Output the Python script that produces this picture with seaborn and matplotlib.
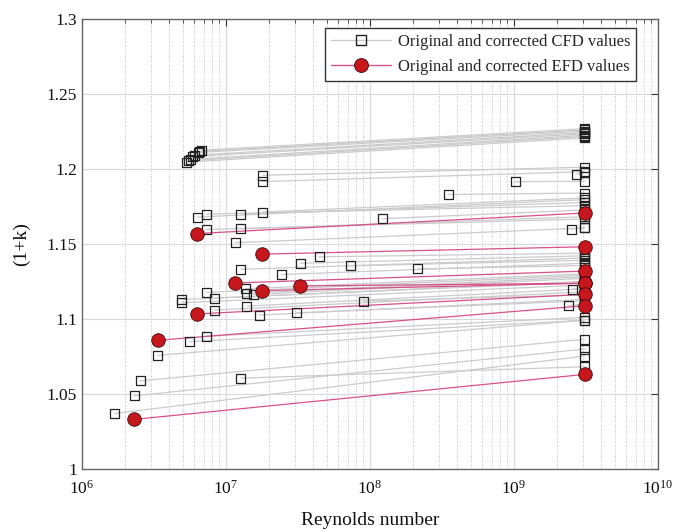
import pandas as pd
import numpy as np
import matplotlib
matplotlib.use("Agg")
import matplotlib.pyplot as plt
import matplotlib.ticker as ticker
from matplotlib.lines import Line2D
import seaborn as sns

# Reynolds number where all corrected values sit
re_corrected = 3.1e9

# CFD cases: original Reynolds number, original (1+k), corrected (1+k)
cfd_re = [5.36e6, 5.5e6, 5.65e6, 5.87e6, 6.07e6, 6.4e6, 6.56e6, 6.74e6,
          1.8e7, 1.8e7, 2.74e9, 1.02e9, 3.49e8,
          6.3e6, 7.3e6, 1.27e7, 1.8e7, 1.23e8, 7.3e6, 1.27e7, 1.16e7, 2.5e9,
          4.43e7, 1.27e7, 3.3e7, 2.44e7, 7.3e7, 2.15e8, 1.36e7, 1.4e7, 1.56e7,
          7.3e6, 8.3e6, 4.93e6, 4.93e6, 8.3e6, 1.4e7, 1.7e7, 3.08e7, 9.0e7,
          2.56e9, 2.38e9,
          5.57e6, 7.3e6, 3.35e6, 2.53e6, 2.3e6, 1.69e6, 1.27e7]
cfd_k_orig = [1.2044, 1.2053, 1.2062, 1.2081, 1.2090, 1.2108, 1.2115, 1.2123,
              1.1956, 1.1914, 1.1963, 1.1914, 1.1828,
              1.1678, 1.1698, 1.1698, 1.1711, 1.1667, 1.1595, 1.1599, 1.1507, 1.1597,
              1.1413, 1.1330, 1.1370, 1.1295, 1.1353, 1.1332, 1.1200, 1.1170, 1.1163,
              1.1176, 1.1138, 1.1129, 1.1107, 1.1058, 1.1085, 1.1025, 1.1040, 1.1118,
              1.1198, 1.1087,
              1.0848, 1.0884, 1.0757, 1.0587, 1.0487, 1.0370, 1.0605]
cfd_k_corr = [1.2205, 1.2215, 1.2222, 1.2232, 1.2240, 1.2250, 1.2258, 1.2266,
              1.2010, 1.1980, 1.1975, 1.1916, 1.1838,
              1.1794, 1.1754, 1.1775, 1.1805, 1.1725, 1.1665, 1.1680, 1.1605, 1.1610,
              1.1437, 1.1405, 1.1420, 1.1370, 1.1390, 1.1355, 1.1300, 1.1280, 1.1270,
              1.1290, 1.1250, 1.1245, 1.1225, 1.1180, 1.1200, 1.1130, 1.1120, 1.1160,
              1.1215, 1.1100,
              1.0991, 1.1010, 1.0991, 1.0864, 1.0799, 1.0752, 1.0681]

# EFD cases
efd_re = [6.3e6, 1.78e7, 1.16e7, 3.27e7, 1.78e7, 6.34e6, 3.35e6, 2.28e6]
efd_k_orig = [1.1568, 1.1431, 1.1239, 1.1219, 1.1188, 1.1033, 1.0857, 1.0330]
efd_k_corr = [1.1705, 1.1480, 1.1318, 1.1237, 1.1237, 1.1163, 1.1087, 1.0630]

plt.rcParams['mathtext.fontset'] = 'custom'
plt.rcParams['mathtext.rm'] = 'Liberation Serif'

rows = []
for i in range(len(cfd_re)):
    rows.append({"case": f"c{i}", "kind": "CFD", "Re": cfd_re[i], "k": cfd_k_orig[i]})
    rows.append({"case": f"c{i}", "kind": "CFD", "Re": re_corrected, "k": cfd_k_corr[i]})
for i in range(len(efd_re)):
    rows.append({"case": f"e{i}", "kind": "EFD", "Re": efd_re[i], "k": efd_k_orig[i]})
    rows.append({"case": f"e{i}", "kind": "EFD", "Re": re_corrected, "k": efd_k_corr[i]})
df = pd.DataFrame(rows)
cfd = df[df["kind"] == "CFD"]
efd = df[df["kind"] == "EFD"]

sns.set_style("white")
plt.rcParams['font.family'] = ['Liberation Serif', 'DejaVu Serif']

fig = plt.figure(figsize=(6.86, 5.32), dpi=100)
ax = fig.add_axes([0.1195, 0.1184, 0.8395, 0.8468])

gray_line = "#cbcbcb"
pink_line = "#d8508a"
red_fill = "#c8161d"

sns.lineplot(data=cfd, x="Re", y="k", units="case", estimator=None, sort=False,
             color=gray_line, lw=0.9, ax=ax, legend=False, zorder=2)
sns.lineplot(data=efd, x="Re", y="k", units="case", estimator=None, sort=False,
             color=pink_line, lw=0.9, ax=ax, legend=False, zorder=3)
sns.scatterplot(data=cfd, x="Re", y="k", marker="s", s=42, facecolor="none",
                edgecolor="#222222", linewidth=0.9, ax=ax, legend=False, zorder=4)
sns.scatterplot(data=efd, x="Re", y="k", marker="o", s=95, color=red_fill,
                edgecolor="#3a0a0a", linewidth=0.6, ax=ax, legend=False, zorder=5)

ax.set_xscale("log")
ax.set_xlim(1e6, 1e10)
ax.set_ylim(1, 1.3)
ax.yaxis.set_major_locator(ticker.MultipleLocator(0.05))
ax.yaxis.set_major_formatter(ticker.FuncFormatter(lambda v, p: f"{v:g}"))
ax.xaxis.set_major_locator(ticker.LogLocator(base=10, numticks=10))
ax.xaxis.set_minor_locator(ticker.LogLocator(base=10, subs=np.arange(2, 10), numticks=20))
ax.xaxis.set_minor_formatter(ticker.NullFormatter())

ax.grid(True, which="major", axis="both", color="#d8d8d8", lw=0.8, ls="-")
ax.grid(True, which="minor", axis="x", color="#a8a8a8", lw=0.6, ls=(0, (1, 2)))
ax.set_axisbelow(True)

ax.tick_params(which="both", direction="in", top=True, right=True, colors="#333333",
               labelsize=12.5, labelcolor="#111111")
ax.tick_params(which="major", length=5, width=0.8)
ax.tick_params(which="minor", length=3, width=0.6)
ax.tick_params(axis="x", pad=8)
for s in ax.spines.values():
    s.set_color("#666666")
    s.set_linewidth(1.0)

ax.set_xlabel("Reynolds number", fontsize=14, color="#111111", labelpad=10)
ax.set_ylabel("(1+k)", fontsize=14, color="#111111", labelpad=12)

handles = [
    Line2D([], [], color=gray_line, lw=1, marker="s", markersize=7,
           markerfacecolor="none", markeredgecolor="#222222"),
    Line2D([], [], color=pink_line, lw=1, marker="o", markersize=10,
           markerfacecolor=red_fill, markeredgecolor="#3a0a0a", markeredgewidth=0.6),
]
leg = ax.legend(handles, ["Original and corrected CFD values", "Original and corrected EFD values"],
                loc="upper right", bbox_to_anchor=(0.962, 0.979), fontsize=12,
                frameon=True, fancybox=False, framealpha=1, handlelength=3.6,
                borderpad=0.35, labelspacing=0.55, handletextpad=0.4, borderaxespad=0.0)
leg.get_frame().set_edgecolor("#333333")
leg.get_frame().set_linewidth(1.0)

fig.savefig("out.png", dpi=100)
